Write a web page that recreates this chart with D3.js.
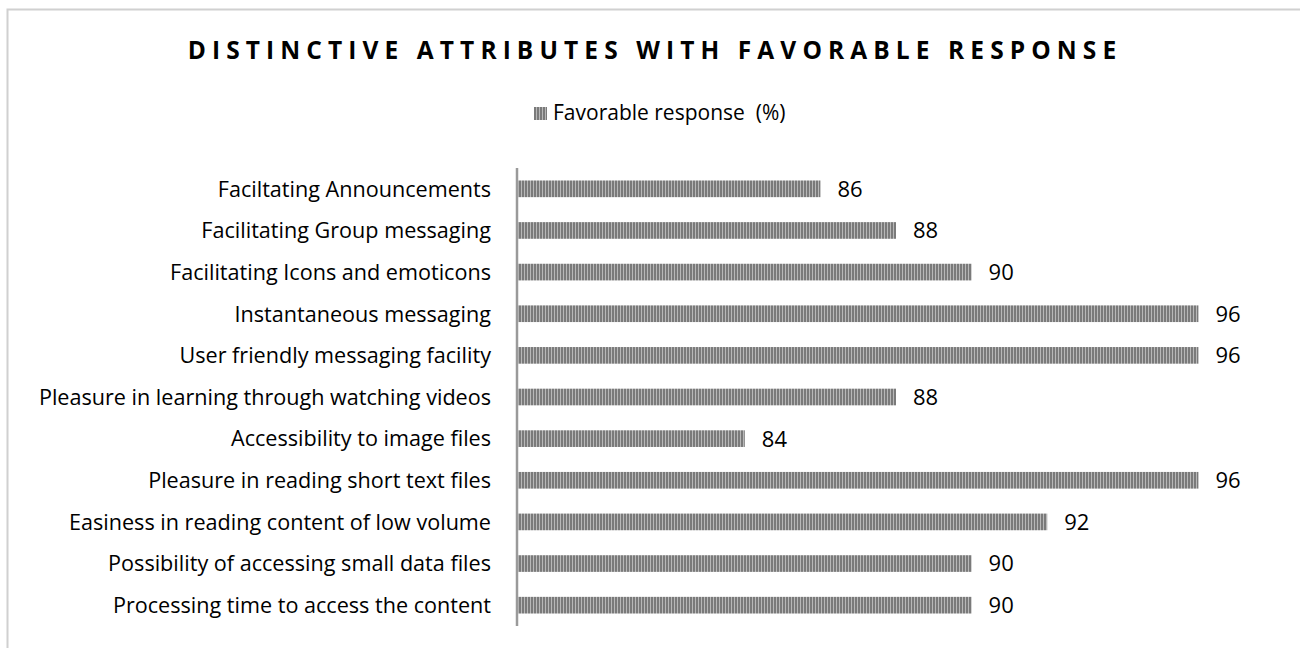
<!DOCTYPE html>
<html>
<head>
<meta charset="utf-8">
<script src="https://cdn.jsdelivr.net/npm/d3@7"></script>
<style>
  body { margin: 0; background: #fff; }
  text { font-family: "Open Sans", sans-serif; fill: #000; }
</style>
</head>
<body>
<svg id="chart" width="1300" height="648"></svg>
<script>
const categories = [
  "Faciltating Announcements",
  "Facilitating Group messaging",
  "Facilitating Icons and emoticons",
  "Instantaneous messaging",
  "User friendly messaging facility",
  "Pleasure in learning through watching videos",
  "Accessibility to image files",
  "Pleasure in reading short text files",
  "Easiness in reading content of low volume",
  "Possibility of accessing small data files",
  "Processing time to access the content"
];
const values = [86, 88, 90, 96, 96, 88, 84, 96, 92, 90, 90];
const seriesName = "Favorable response  (%)";
const title = "DISTINCTIVE ATTRIBUTES WITH FAVORABLE RESPONSE";

const svg = d3.select("#chart");

// outer frame
svg.append("rect")
    .attr("x", 7.5).attr("y", 9.5)
    .attr("width", 1300).attr("height", 700)
    .attr("fill", "none")
    .attr("stroke", "#d0d0d0")
    .attr("stroke-width", 2);

// striped fill
const pat = svg.append("defs").append("pattern")
    .attr("id", "stripes")
    .attr("patternUnits", "userSpaceOnUse")
    .attr("width", 3).attr("height", 10);
pat.append("rect").attr("width", 3).attr("height", 10).attr("fill", "#7a7a7a");
pat.append("rect").attr("x", 2).attr("width", 1).attr("height", 10).attr("fill", "#b8b8b8");

const left = 518;
const x = d3.scaleLinear().domain([78, 98]).range([left, left + 20 * 37.8]);
const y = d3.scaleBand()
    .domain(categories)
    .range([168, 626])
    .paddingInner(0.6)
    .paddingOuter(0.3);

svg.append("text")
    .attr("x", 655).attr("y", 59)
    .attr("text-anchor", "middle")
    .attr("font-size", 24.5)
    .attr("font-weight", "bold")
    .attr("letter-spacing", 6.1)
    .text(title);

// legend
svg.append("rect")
    .attr("x", 534).attr("y", 107)
    .attr("width", 13).attr("height", 13)
    .attr("fill", "url(#stripes)");
svg.append("text")
    .attr("x", 553).attr("y", 120)
    .attr("font-size", 21)
    .style("white-space", "pre")
    .text(seriesName);

const bars = svg.append("g");
bars.selectAll("rect")
    .data(values)
  .enter().append("rect")
    .attr("x", x(78))
    .attr("y", (d, i) => y(categories[i]))
    .attr("width", (d) => x(d) - x(78))
    .attr("height", y.bandwidth())
    .attr("fill", "url(#stripes)");

bars.selectAll("text")
    .data(values)
  .enter().append("text")
    .attr("x", (d) => x(d) + 17)
    .attr("y", (d, i) => y(categories[i]) + y.bandwidth() / 2)
    .attr("dy", "0.36em")
    .attr("font-size", 22)
    .text((d) => d);

// category labels
svg.append("g").selectAll("text")
    .data(categories)
  .enter().append("text")
    .attr("x", 491)
    .attr("y", (d) => y(d) + y.bandwidth() / 2)
    .attr("dy", "0.36em")
    .attr("text-anchor", "end")
    .attr("font-size", 21.6)
    .text((d) => d);

// axis line
svg.append("line")
    .attr("x1", left - 1).attr("x2", left - 1)
    .attr("y1", 168).attr("y2", 626)
    .attr("stroke", "#9a9a9a")
    .attr("stroke-width", 2.5);
</script>
</body>
</html>
